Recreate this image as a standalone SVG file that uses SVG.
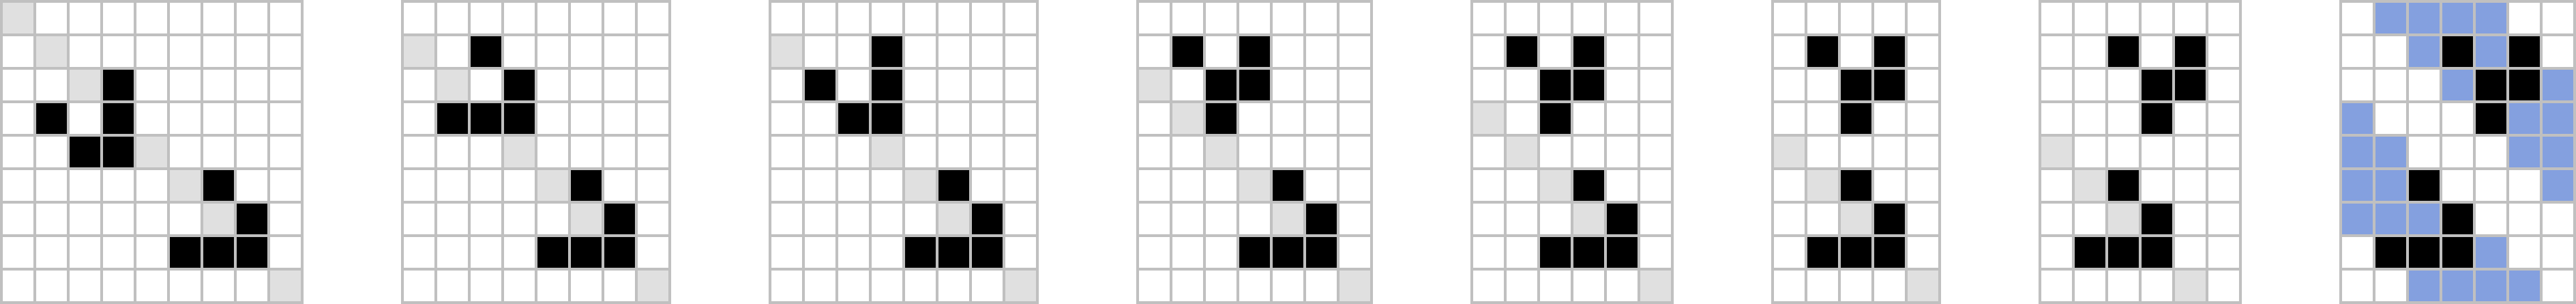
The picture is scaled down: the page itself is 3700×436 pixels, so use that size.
<svg xmlns="http://www.w3.org/2000/svg" width="3700" height="436" viewBox="0 0 3700 436">
<style>
.grid{fill:url(#cell)}
.g{fill:#e0e0e0}
.k{fill:#000}
.b{fill:#84a0df}
</style>
<defs>
<pattern id="cell" x="0" y="0" width="48" height="48" patternUnits="userSpaceOnUse">
<rect width="48" height="48" fill="#fff"/>
<rect width="4" height="48" fill="#c0c0c0"/>
<rect width="48" height="4" fill="#c0c0c0"/>
</pattern>
</defs>
<rect width="3700" height="436" fill="#fff"/>
<g id="grid1">
<rect class="grid" x="0" y="0" width="436" height="436"/>
<rect class="g" x="4" y="4" width="44" height="44"/>
<rect class="g" x="52" y="52" width="44" height="44"/>
<rect class="g" x="100" y="100" width="44" height="44"/>
<rect class="k" x="148" y="100" width="44" height="44"/>
<rect class="k" x="52" y="148" width="44" height="44"/>
<rect class="k" x="148" y="148" width="44" height="44"/>
<rect class="k" x="100" y="196" width="44" height="44"/>
<rect class="k" x="148" y="196" width="44" height="44"/>
<rect class="g" x="196" y="196" width="44" height="44"/>
<rect class="g" x="244" y="244" width="44" height="44"/>
<rect class="k" x="292" y="244" width="44" height="44"/>
<rect class="g" x="292" y="292" width="44" height="44"/>
<rect class="k" x="340" y="292" width="44" height="44"/>
<rect class="k" x="244" y="340" width="44" height="44"/>
<rect class="k" x="292" y="340" width="44" height="44"/>
<rect class="k" x="340" y="340" width="44" height="44"/>
<rect class="g" x="388" y="388" width="44" height="44"/>
</g>
<g id="grid2">
<rect class="grid" x="576" y="0" width="388" height="436"/>
<rect class="g" x="580" y="52" width="44" height="44"/>
<rect class="k" x="676" y="52" width="44" height="44"/>
<rect class="g" x="628" y="100" width="44" height="44"/>
<rect class="k" x="724" y="100" width="44" height="44"/>
<rect class="k" x="628" y="148" width="44" height="44"/>
<rect class="k" x="676" y="148" width="44" height="44"/>
<rect class="k" x="724" y="148" width="44" height="44"/>
<rect class="g" x="724" y="196" width="44" height="44"/>
<rect class="g" x="772" y="244" width="44" height="44"/>
<rect class="k" x="820" y="244" width="44" height="44"/>
<rect class="g" x="820" y="292" width="44" height="44"/>
<rect class="k" x="868" y="292" width="44" height="44"/>
<rect class="k" x="772" y="340" width="44" height="44"/>
<rect class="k" x="820" y="340" width="44" height="44"/>
<rect class="k" x="868" y="340" width="44" height="44"/>
<rect class="g" x="916" y="388" width="44" height="44"/>
</g>
<g id="grid3">
<rect class="grid" x="1104" y="0" width="388" height="436"/>
<rect class="g" x="1108" y="52" width="44" height="44"/>
<rect class="k" x="1252" y="52" width="44" height="44"/>
<rect class="k" x="1156" y="100" width="44" height="44"/>
<rect class="k" x="1252" y="100" width="44" height="44"/>
<rect class="k" x="1204" y="148" width="44" height="44"/>
<rect class="k" x="1252" y="148" width="44" height="44"/>
<rect class="g" x="1252" y="196" width="44" height="44"/>
<rect class="g" x="1300" y="244" width="44" height="44"/>
<rect class="k" x="1348" y="244" width="44" height="44"/>
<rect class="g" x="1348" y="292" width="44" height="44"/>
<rect class="k" x="1396" y="292" width="44" height="44"/>
<rect class="k" x="1300" y="340" width="44" height="44"/>
<rect class="k" x="1348" y="340" width="44" height="44"/>
<rect class="k" x="1396" y="340" width="44" height="44"/>
<rect class="g" x="1444" y="388" width="44" height="44"/>
</g>
<g id="grid4">
<rect class="grid" x="1632" y="0" width="340" height="436"/>
<rect class="k" x="1684" y="52" width="44" height="44"/>
<rect class="k" x="1780" y="52" width="44" height="44"/>
<rect class="g" x="1636" y="100" width="44" height="44"/>
<rect class="k" x="1732" y="100" width="44" height="44"/>
<rect class="k" x="1780" y="100" width="44" height="44"/>
<rect class="g" x="1684" y="148" width="44" height="44"/>
<rect class="k" x="1732" y="148" width="44" height="44"/>
<rect class="g" x="1732" y="196" width="44" height="44"/>
<rect class="g" x="1780" y="244" width="44" height="44"/>
<rect class="k" x="1828" y="244" width="44" height="44"/>
<rect class="g" x="1828" y="292" width="44" height="44"/>
<rect class="k" x="1876" y="292" width="44" height="44"/>
<rect class="k" x="1780" y="340" width="44" height="44"/>
<rect class="k" x="1828" y="340" width="44" height="44"/>
<rect class="k" x="1876" y="340" width="44" height="44"/>
<rect class="g" x="1924" y="388" width="44" height="44"/>
</g>
<g id="grid5">
<rect class="grid" x="2112" y="0" width="292" height="436"/>
<rect class="k" x="2164" y="52" width="44" height="44"/>
<rect class="k" x="2260" y="52" width="44" height="44"/>
<rect class="k" x="2212" y="100" width="44" height="44"/>
<rect class="k" x="2260" y="100" width="44" height="44"/>
<rect class="g" x="2116" y="148" width="44" height="44"/>
<rect class="k" x="2212" y="148" width="44" height="44"/>
<rect class="g" x="2164" y="196" width="44" height="44"/>
<rect class="g" x="2212" y="244" width="44" height="44"/>
<rect class="k" x="2260" y="244" width="44" height="44"/>
<rect class="g" x="2260" y="292" width="44" height="44"/>
<rect class="k" x="2308" y="292" width="44" height="44"/>
<rect class="k" x="2212" y="340" width="44" height="44"/>
<rect class="k" x="2260" y="340" width="44" height="44"/>
<rect class="k" x="2308" y="340" width="44" height="44"/>
<rect class="g" x="2356" y="388" width="44" height="44"/>
</g>
<g id="grid6">
<rect class="grid" x="2544" y="0" width="244" height="436"/>
<rect class="k" x="2596" y="52" width="44" height="44"/>
<rect class="k" x="2692" y="52" width="44" height="44"/>
<rect class="k" x="2644" y="100" width="44" height="44"/>
<rect class="k" x="2692" y="100" width="44" height="44"/>
<rect class="k" x="2644" y="148" width="44" height="44"/>
<rect class="g" x="2548" y="196" width="44" height="44"/>
<rect class="g" x="2596" y="244" width="44" height="44"/>
<rect class="k" x="2644" y="244" width="44" height="44"/>
<rect class="g" x="2644" y="292" width="44" height="44"/>
<rect class="k" x="2692" y="292" width="44" height="44"/>
<rect class="k" x="2596" y="340" width="44" height="44"/>
<rect class="k" x="2644" y="340" width="44" height="44"/>
<rect class="k" x="2692" y="340" width="44" height="44"/>
<rect class="g" x="2740" y="388" width="44" height="44"/>
</g>
<g id="grid7">
<rect class="grid" x="2928" y="0" width="292" height="436"/>
<rect class="k" x="3028" y="52" width="44" height="44"/>
<rect class="k" x="3124" y="52" width="44" height="44"/>
<rect class="k" x="3076" y="100" width="44" height="44"/>
<rect class="k" x="3124" y="100" width="44" height="44"/>
<rect class="k" x="3076" y="148" width="44" height="44"/>
<rect class="g" x="2932" y="196" width="44" height="44"/>
<rect class="g" x="2980" y="244" width="44" height="44"/>
<rect class="k" x="3028" y="244" width="44" height="44"/>
<rect class="g" x="3028" y="292" width="44" height="44"/>
<rect class="k" x="3076" y="292" width="44" height="44"/>
<rect class="k" x="2980" y="340" width="44" height="44"/>
<rect class="k" x="3028" y="340" width="44" height="44"/>
<rect class="k" x="3076" y="340" width="44" height="44"/>
<rect class="g" x="3124" y="388" width="44" height="44"/>
</g>
<g id="grid8">
<rect class="grid" x="3360" y="0" width="340" height="436"/>
<rect class="b" x="3412" y="4" width="44" height="44"/>
<rect class="b" x="3460" y="4" width="44" height="44"/>
<rect class="b" x="3508" y="4" width="44" height="44"/>
<rect class="b" x="3556" y="4" width="44" height="44"/>
<rect class="b" x="3460" y="52" width="44" height="44"/>
<rect class="k" x="3508" y="52" width="44" height="44"/>
<rect class="b" x="3556" y="52" width="44" height="44"/>
<rect class="k" x="3604" y="52" width="44" height="44"/>
<rect class="b" x="3508" y="100" width="44" height="44"/>
<rect class="k" x="3556" y="100" width="44" height="44"/>
<rect class="k" x="3604" y="100" width="44" height="44"/>
<rect class="b" x="3652" y="100" width="44" height="44"/>
<rect class="b" x="3364" y="148" width="44" height="44"/>
<rect class="k" x="3556" y="148" width="44" height="44"/>
<rect class="b" x="3604" y="148" width="44" height="44"/>
<rect class="b" x="3652" y="148" width="44" height="44"/>
<rect class="b" x="3364" y="196" width="44" height="44"/>
<rect class="b" x="3412" y="196" width="44" height="44"/>
<rect class="b" x="3604" y="196" width="44" height="44"/>
<rect class="b" x="3652" y="196" width="44" height="44"/>
<rect class="b" x="3364" y="244" width="44" height="44"/>
<rect class="b" x="3412" y="244" width="44" height="44"/>
<rect class="k" x="3460" y="244" width="44" height="44"/>
<rect class="b" x="3652" y="244" width="44" height="44"/>
<rect class="b" x="3364" y="292" width="44" height="44"/>
<rect class="b" x="3412" y="292" width="44" height="44"/>
<rect class="b" x="3460" y="292" width="44" height="44"/>
<rect class="k" x="3508" y="292" width="44" height="44"/>
<rect class="k" x="3412" y="340" width="44" height="44"/>
<rect class="k" x="3460" y="340" width="44" height="44"/>
<rect class="k" x="3508" y="340" width="44" height="44"/>
<rect class="b" x="3556" y="340" width="44" height="44"/>
<rect class="b" x="3460" y="388" width="44" height="44"/>
<rect class="b" x="3508" y="388" width="44" height="44"/>
<rect class="b" x="3556" y="388" width="44" height="44"/>
<rect class="b" x="3604" y="388" width="44" height="44"/>
</g>
</svg>
